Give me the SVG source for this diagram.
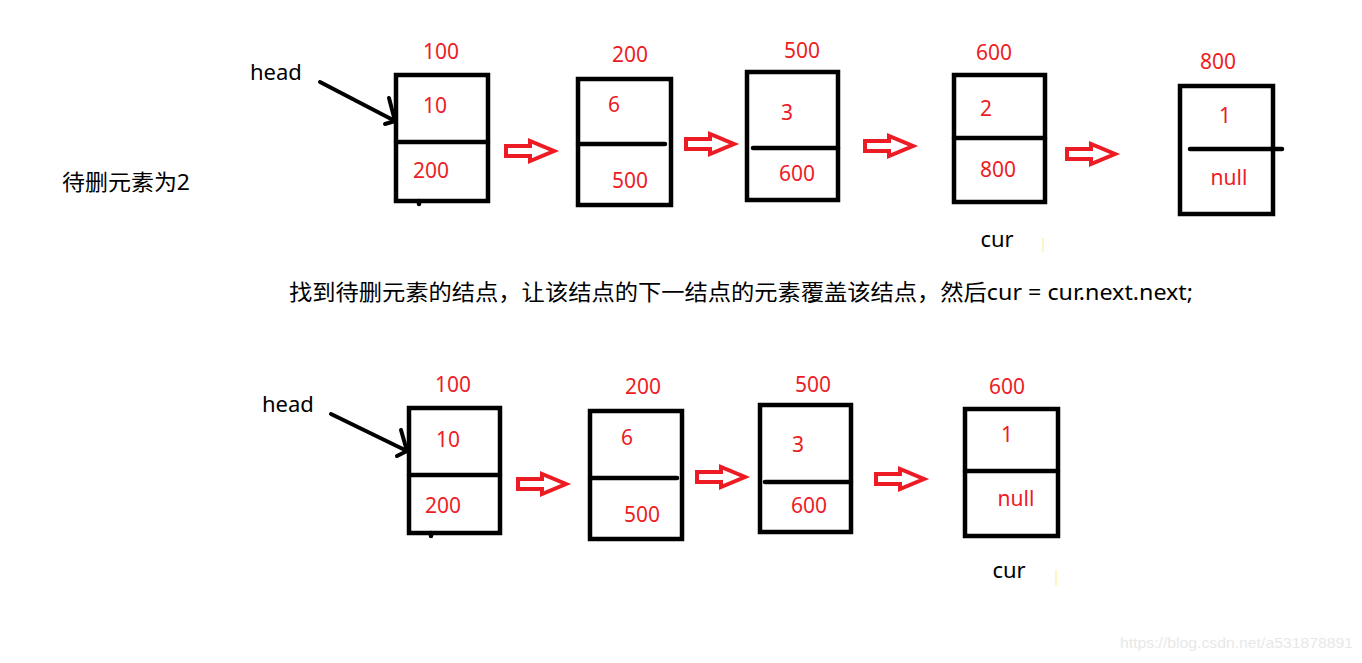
<svg xmlns="http://www.w3.org/2000/svg" xmlns:xlink="http://www.w3.org/1999/xlink" width="1362" height="663" viewBox="0 0 1362 663">
<style>
  .box{fill:none;stroke:#000;stroke-width:4.5}
  .div{stroke:#000;stroke-width:4.5;stroke-linecap:round}
  .red{font-family:"Noto Sans","Liberation Sans",sans-serif;font-size:21px;fill:#ED1C24;text-anchor:middle}
  .blk{font-family:"Noto Sans","Noto Sans CJK SC",sans-serif;font-size:22px;fill:#000}
  .ptr{fill:none;stroke:#000;stroke-width:4;stroke-linecap:round;stroke-linejoin:round}
  .ra{fill:none;stroke:#ED1C24;stroke-width:4;stroke-linejoin:miter}
  .tick{stroke:#fbf3b0;stroke-width:1.5}
</style>
<defs>
  <path id="ra" class="ra" d="M2,-5 H26 V-10 L50,0 L26,10 V5 H2 Z"/>
</defs>
<rect width="1362" height="663" fill="#fff"/>

<text class="blk" x="62" y="190" textLength="128" lengthAdjust="spacingAndGlyphs">待删元素为2</text>
<text class="blk" x="289" y="300" textLength="904" lengthAdjust="spacingAndGlyphs">找到待删元素的结点，让该结点的下一结点的元素覆盖该结点，然后cur = cur.next.next;</text>

<!-- top row -->
<text class="blk" x="250" y="80">head</text>
<g id="t100">
  <rect class="box" x="396" y="75" width="92" height="126"/>
  <line class="div" x1="396" y1="142" x2="488" y2="142"/>
  <line class="div" x1="419" y1="201" x2="419" y2="204"/>
  <text class="red" x="441" y="59">100</text>
  <text class="red" x="435" y="113">10</text>
  <text class="red" x="431" y="178">200</text>
</g>
<g id="t200">
  <rect class="box" x="578" y="79" width="93" height="126"/>
  <line class="div" x1="578" y1="144" x2="665" y2="144"/>
  <text class="red" x="630" y="62">200</text>
  <text class="red" x="614" y="112">6</text>
  <text class="red" x="630" y="188">500</text>
</g>
<g id="t500">
  <rect class="box" x="747" y="72" width="91" height="128"/>
  <line class="div" x1="753" y1="148" x2="838" y2="148"/>
  <text class="red" x="802" y="58">500</text>
  <text class="red" x="787" y="120">3</text>
  <text class="red" x="797" y="181">600</text>
</g>
<g id="t600">
  <rect class="box" x="954" y="75" width="91" height="127"/>
  <line class="div" x1="954" y1="138" x2="1045" y2="138"/>
  <text class="red" x="994" y="60">600</text>
  <text class="red" x="986" y="116">2</text>
  <text class="red" x="998" y="177">800</text>
  <text class="blk" x="997" y="247" text-anchor="middle" font-size="21">cur</text>
  <line class="tick" x1="1043" y1="238" x2="1043" y2="252"/>
</g>
<g id="t800">
  <rect class="box" x="1180" y="86" width="93" height="128"/>
  <line class="div" x1="1190" y1="149" x2="1282" y2="149"/>
  <text class="red" x="1218" y="69">800</text>
  <text class="red" x="1225" y="123">1</text>
  <text class="red" x="1229" y="185">null</text>
</g>

<!-- bottom row -->
<text class="blk" x="262" y="412">head</text>
<g id="b100">
  <rect class="box" x="409" y="408" width="91" height="125"/>
  <line class="div" x1="409" y1="475" x2="500" y2="475"/>
  <line class="div" x1="431" y1="533" x2="431" y2="536"/>
  <text class="red" x="453" y="392">100</text>
  <text class="red" x="448" y="447">10</text>
  <text class="red" x="443" y="513">200</text>
</g>
<g id="b200">
  <rect class="box" x="590" y="411" width="92" height="128"/>
  <line class="div" x1="590" y1="478" x2="677" y2="478"/>
  <text class="red" x="643" y="394">200</text>
  <text class="red" x="627" y="445">6</text>
  <text class="red" x="642" y="522">500</text>
</g>
<g id="b500">
  <rect class="box" x="760" y="405" width="91" height="127"/>
  <line class="div" x1="765" y1="482" x2="851" y2="482"/>
  <text class="red" x="813" y="392">500</text>
  <text class="red" x="798" y="452">3</text>
  <text class="red" x="809" y="513">600</text>
</g>
<g id="b600">
  <rect class="box" x="965" y="409" width="93" height="127"/>
  <line class="div" x1="965" y1="471" x2="1058" y2="471"/>
  <text class="red" x="1007" y="394">600</text>
  <text class="red" x="1007" y="442">1</text>
  <text class="red" x="1016" y="506">null</text>
  <text class="blk" x="1009" y="578" text-anchor="middle" font-size="21">cur</text>
  <line class="tick" x1="1056" y1="570" x2="1056" y2="586"/>
</g>

<g id="connectors">
  <polyline class="ptr" points="320,82 395,121"/>
  <polyline class="ptr" points="389,98 395,121 385,124"/>
  <polyline class="ptr" points="331,414 407,451"/>
  <polyline class="ptr" points="401,430 407,451 397,456"/>
  <use xlink:href="#ra" x="504" y="151"/>
  <use xlink:href="#ra" x="684" y="144"/>
  <use xlink:href="#ra" x="863" y="146"/>
  <use xlink:href="#ra" x="1065" y="154"/>
  <use xlink:href="#ra" x="516" y="484"/>
  <use xlink:href="#ra" x="695" y="477"/>
  <use xlink:href="#ra" x="874" y="479"/>
</g>

<text x="1120" y="648" font-family="Liberation Sans, sans-serif" font-size="14" fill="#e8e8e8" textLength="233" lengthAdjust="spacingAndGlyphs">https://blog.csdn.net/a531878891</text>
</svg>
